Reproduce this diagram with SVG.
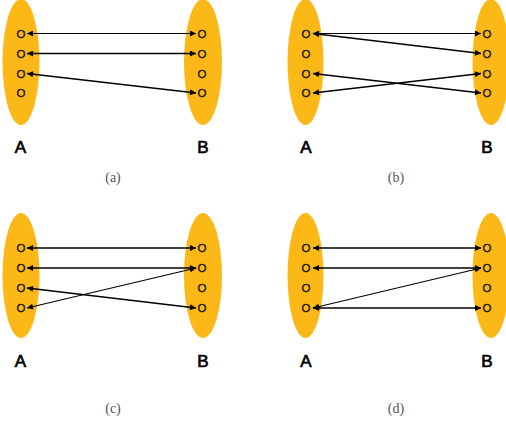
<svg xmlns="http://www.w3.org/2000/svg" width="506" height="434" viewBox="0 0 506 434">
<style>
.set{fill:#FCB816}
.el{font-family:"Liberation Sans",Arial,sans-serif;font-size:11.5px;fill:#111;stroke:#111;stroke-width:0.3;text-anchor:middle}
.lab{font-family:"Liberation Sans",Arial,sans-serif;font-size:17px;fill:#000;stroke:#000;stroke-width:0.7;text-anchor:middle}
.cap{font-family:"Liberation Serif","Times New Roman",serif;font-size:14px;fill:#555;text-anchor:middle}
.ar{stroke:#000;stroke-width:1.5;fill:none;marker-start:url(#h);marker-end:url(#h)}
.thin{stroke-width:1.1}
</style>
<defs>
<marker id="h" viewBox="0 0 10 10" refX="10" refY="5" markerWidth="7" markerHeight="6" markerUnits="userSpaceOnUse" orient="auto-start-reverse">
<path d="M0,0 L10,5 L0,10 z" fill="#000"/>
</marker>
</defs>

<!-- panel a -->
<g id="a-A"><ellipse class="set" cx="21" cy="62" rx="18.5" ry="63"/>
<text class="el" x="21" y="37.7">O</text><text class="el" x="21" y="57.7">O</text><text class="el" x="21" y="77.7">O</text><text class="el" x="21" y="97.2">O</text></g>
<g id="a-B"><ellipse class="set" cx="203" cy="62" rx="19" ry="63"/>
<text class="el" x="202" y="37.7">O</text><text class="el" x="202" y="57.7">O</text><text class="el" x="202" y="77.7">O</text><text class="el" x="202" y="97.2">O</text></g>
<g id="a-labels"><text class="lab" x="20.5" y="153">A</text><text class="lab" x="203" y="153">B</text><text class="cap" x="113" y="182">(a)</text></g>

<!-- panel b -->
<g id="b-A"><ellipse class="set" cx="305.5" cy="62" rx="18" ry="63"/>
<text class="el" x="306" y="37.7">O</text><text class="el" x="306" y="57.7">O</text><text class="el" x="306" y="77.7">O</text><text class="el" x="306" y="97.2">O</text></g>
<g id="b-B"><ellipse class="set" cx="491" cy="62" rx="18.5" ry="63"/>
<text class="el" x="487" y="37.7">O</text><text class="el" x="487" y="57.7">O</text><text class="el" x="487" y="77.7">O</text><text class="el" x="487" y="97.2">O</text></g>
<g id="b-labels"><text class="lab" x="306" y="153">A</text><text class="lab" x="487" y="153">B</text><text class="cap" x="396" y="182">(b)</text></g>

<!-- panel c -->
<g id="c-A"><ellipse class="set" cx="21" cy="275.5" rx="18.5" ry="62.5"/>
<text class="el" x="21" y="252.2">O</text><text class="el" x="21" y="272.2">O</text><text class="el" x="21" y="292.2">O</text><text class="el" x="21" y="312.2">O</text></g>
<g id="c-B"><ellipse class="set" cx="203" cy="275.5" rx="19" ry="62.5"/>
<text class="el" x="202" y="252.2">O</text><text class="el" x="202" y="272.2">O</text><text class="el" x="202" y="292.2">O</text><text class="el" x="202" y="312.2">O</text></g>
<g id="c-labels"><text class="lab" x="20.5" y="367">A</text><text class="lab" x="203" y="367">B</text><text class="cap" x="113" y="413">(c)</text></g>

<!-- panel d -->
<g id="d-A"><ellipse class="set" cx="305.5" cy="275.5" rx="18" ry="62.5"/>
<text class="el" x="306" y="252.2">O</text><text class="el" x="306" y="272.2">O</text><text class="el" x="306" y="292.2">O</text><text class="el" x="306" y="312.2">O</text></g>
<g id="d-B"><ellipse class="set" cx="491" cy="275.5" rx="18.5" ry="62.5"/>
<text class="el" x="487" y="252.2">O</text><text class="el" x="487" y="272.2">O</text><text class="el" x="487" y="292.2">O</text><text class="el" x="487" y="312.2">O</text></g>
<g id="d-labels"><text class="lab" x="306" y="367">A</text><text class="lab" x="487" y="367">B</text><text class="cap" x="396" y="413">(d)</text></g>

<g id="connectors">
<!-- a -->
<line class="ar thin" x1="27" y1="33.5" x2="196" y2="33.5"/>
<line class="ar" x1="27" y1="53.5" x2="196" y2="53.5"/>
<line class="ar" x1="27" y1="73.5" x2="196" y2="93"/>
<!-- b -->
<line class="ar thin" x1="313" y1="33.5" x2="481" y2="33.5"/>
<line class="ar" x1="313" y1="33.5" x2="481" y2="53.5"/>
<line class="ar" x1="313" y1="73.5" x2="481" y2="93"/>
<line class="ar" x1="313" y1="93" x2="481" y2="73.5"/>
<!-- c -->
<line class="ar" x1="27" y1="248" x2="196" y2="248"/>
<line class="ar" x1="27" y1="268" x2="196" y2="268"/>
<line class="ar thin" x1="27" y1="308" x2="196" y2="268"/>
<line class="ar" x1="27" y1="288" x2="196" y2="308"/>
<!-- d -->
<line class="ar" x1="313" y1="248" x2="481" y2="248"/>
<line class="ar" x1="313" y1="268" x2="481" y2="268"/>
<line class="ar thin" x1="313" y1="308" x2="481" y2="268"/>
<line class="ar" x1="313" y1="308" x2="481" y2="308"/>
</g>
</svg>
